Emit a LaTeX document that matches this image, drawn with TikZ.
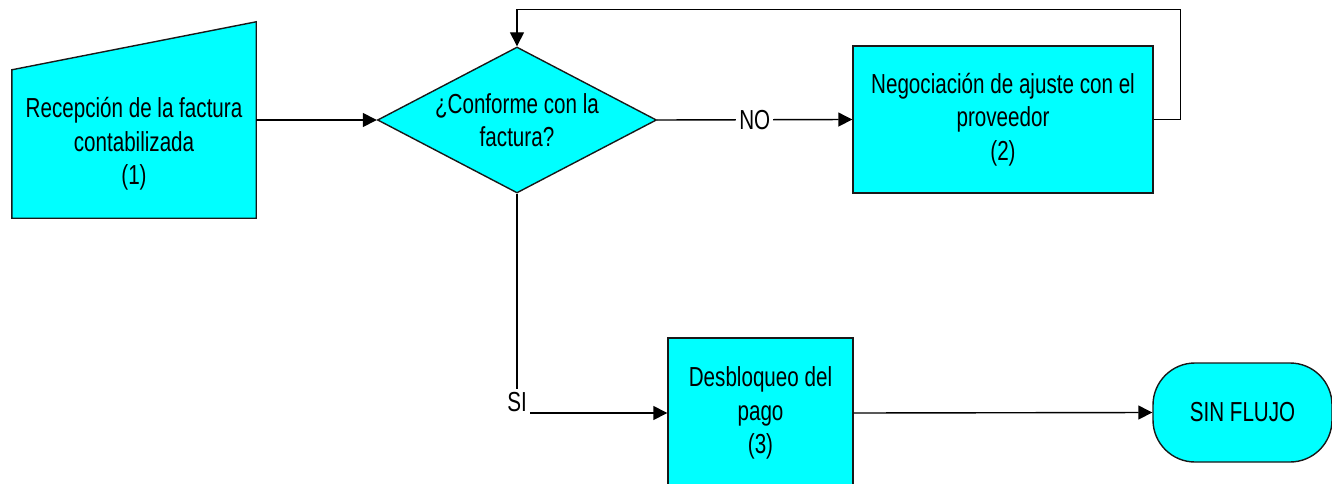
\documentclass[tikz,border=0pt]{standalone}
\usepackage{fontspec}
\setmainfont{Liberation Sans}[FakeStretch=0.75]
\usepackage{tikz}
\usetikzlibrary{shapes,arrows.meta,positioning,backgrounds}
\definecolor{cian}{RGB}{0,255,255}
\definecolor{borde}{RGB}{25,25,25}
\tikzstyle{entrada} = [rectangle, align=center, inner sep=0pt, minimum width=244pt, minimum height=148pt]
\tikzstyle{proceso} = [draw=borde, fill=cian, line width=1.4pt, rectangle, align=center, inner sep=0pt]
\tikzstyle{decision} = [draw=borde, fill=cian, line width=1.4pt, diamond, aspect=1.91, inner sep=0pt, align=center, minimum width=279pt, minimum height=146pt]
\tikzstyle{terminal} = [draw=borde, fill=cian, line width=1.4pt, rectangle, rounded corners=42pt, minimum width=179pt, minimum height=99pt]
\tikzstyle{flecha} = [draw=black, line width=1.4pt, -{Triangle[length=14pt,width=14pt]}]
\tikzstyle{etiqueta} = [fill=white, inner sep=3pt]

\begin{document}
\begin{tikzpicture}[x=1pt, y=-1pt, font={\fontsize{27.5}{33.5}\selectfont}]
					\useasboundingbox (0,0) rectangle (1332,484);
					% entrada manual
					\node[entrada] (recep) at (134,144) {Recepción de la factura\\contabilizada\\(1)};
					\begin{scope}[on background layer]
						\draw[draw=borde, fill=cian, line width=1.4pt] (recep.south west) -- (recep.south east) -- ([yshift=48pt]recep.north east) -- (recep.north west) -- cycle;
					\end{scope}
					\node[decision] (conf) at (517,120) {¿Conforme con la\\factura?};
					\node[proceso, minimum width=300pt, minimum height=147pt] (negoc) at (1003,119.5) {Negociación de ajuste con el\\proveedor\\(2)};
					\node[proceso, minimum width=185pt, minimum height=150pt] (desbl) at (760.5,413) {Desbloqueo del\\pago\\(3)};
					\node[terminal] (fin) at (1242.5,412.5) {SIN FLUJO};
					% conectores
					\draw[flecha] (recep.east |- conf.west) -- (conf.west);
					\draw[flecha] (conf.east) -- node[etiqueta] {NO} (negoc.west);
					\draw[flecha] (negoc.east) -- ++(27,0) |- ([yshift=37pt]conf.north) -- (conf.north);
					\draw[flecha] (conf.south) |- node[etiqueta, pos=0.5, yshift=11pt] {SI} (desbl.west);
					\draw[flecha] (desbl.east) -- (fin.west);
\end{tikzpicture}
\end{document}
